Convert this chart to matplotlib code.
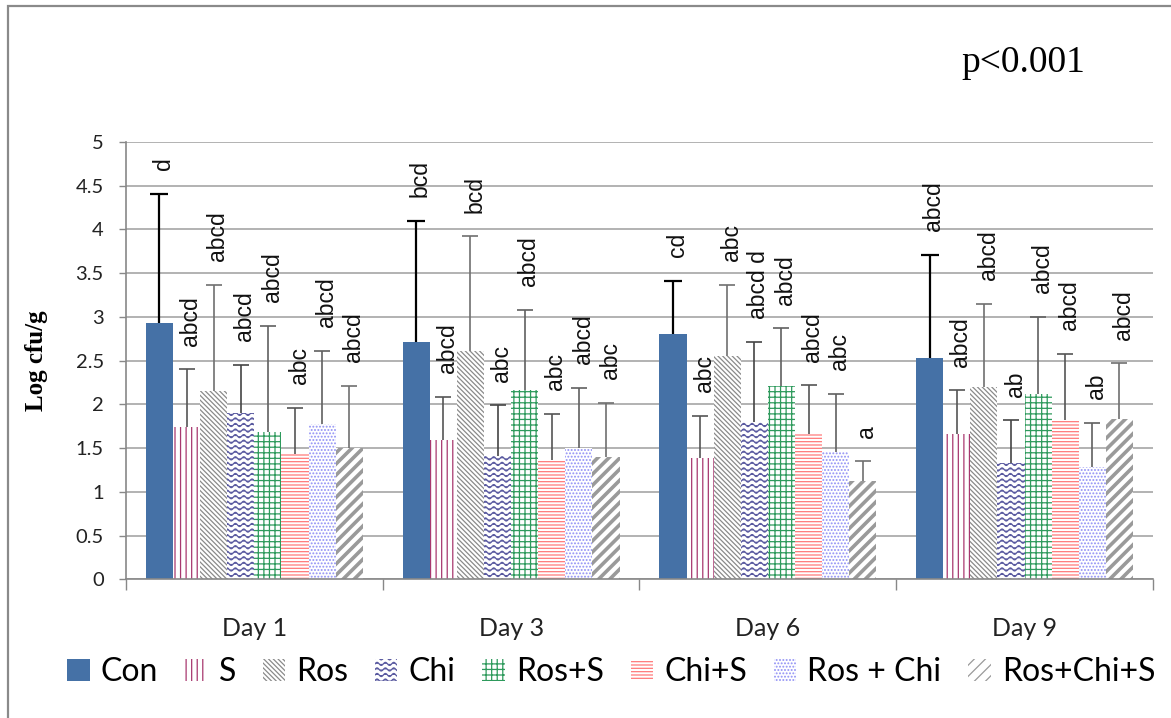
import matplotlib
matplotlib.use('Agg')
import matplotlib.pyplot as plt
import matplotlib.hatch as mhatch
from matplotlib.path import Path
from matplotlib.patches import Rectangle
import numpy as np

# ---- data ----
days = ['Day 1', 'Day 3', 'Day 6', 'Day 9']
groups = ['Con', 'S', 'Ros', 'Chi', 'Ros+S', 'Chi+S', 'Ros + Chi', 'Ros+Chi+S']

con = [2.93, 2.71, 2.80, 2.53]
s = [1.74, 1.59, 1.39, 1.66]
ros = [2.15, 2.61, 2.55, 2.20]
chi = [1.90, 1.41, 1.80, 1.33]
ros_s = [1.68, 2.16, 2.21, 2.12]
chi_s = [1.43, 1.36, 1.66, 1.82]
ros_chi = [1.78, 1.50, 1.45, 1.28]
ros_chi_s = [1.50, 1.40, 1.12, 1.83]

con_sd = [1.48, 1.39, 0.61, 1.18]
s_sd = [0.66, 0.50, 0.48, 0.50]
ros_sd = [1.22, 1.31, 0.82, 0.95]
chi_sd = [0.55, 0.58, 0.91, 0.49]
ros_s_sd = [1.22, 0.92, 0.66, 0.88]
chi_s_sd = [0.53, 0.53, 0.56, 0.76]
ros_chi_sd = [0.83, 0.69, 0.67, 0.51]
ros_chi_s_sd = [0.71, 0.62, 0.23, 0.64]

con_lbl = ['d', 'bcd', 'cd', 'abcd']
s_lbl = ['abcd', 'abcd', 'abc', 'abcd']
ros_lbl = ['abcd', 'bcd', 'abc', 'abcd']
chi_lbl = ['abcd', 'abc', 'abcd d', 'ab']
ros_s_lbl = ['abcd', 'abcd', 'abcd', 'abcd']
chi_s_lbl = ['abc', 'abc', 'abcd', 'abcd']
ros_chi_lbl = ['abcd', 'abcd', 'abc', 'ab']
ros_chi_s_lbl = ['abcd', 'abc', 'a', 'abcd']

means = [con, s, ros, chi, ros_s, chi_s, ros_chi, ros_chi_s]
sds = [con_sd, s_sd, ros_sd, chi_sd, ros_s_sd, chi_s_sd, ros_chi_sd, ros_chi_s_sd]
letters = [con_lbl, s_lbl, ros_lbl, chi_lbl, ros_s_lbl, chi_s_lbl, ros_chi_lbl, ros_chi_s_lbl]


# wavy hatch for the Chi bars ('O' is re-used for it)
class WaveHatch(mhatch.HatchPatternBase):
    def __init__(self, hatch, density):
        self.num_lines = int(hatch.count('O') * density)
        self.n_pts = 121
        self.num_vertices = self.num_lines * self.n_pts

    def set_vertices_and_codes(self, vertices, codes):
        n = self.n_pts
        steps, step = np.linspace(0.0, 1.0, self.num_lines, False, retstep=True)
        steps += step / 2.0
        xs = np.linspace(0.0, 1.0, n)
        wave = 0.28 * step * np.sin(2 * np.pi * 12 * xs)
        for i, y0 in enumerate(steps):
            vertices[i * n:(i + 1) * n, 0] = xs
            vertices[i * n:(i + 1) * n, 1] = y0 + wave
            codes[i * n:(i + 1) * n] = Path.LINETO
            codes[i * n] = Path.MOVETO


mhatch._hatch_types = [h for h in mhatch._hatch_types
                       if h is not mhatch.LargeCircles] + [WaveHatch]

plt.rcParams['hatch.linewidth'] = 0.9

facecolors = ['#4571a6', 'white', 'white', 'white', 'white', 'white', 'white', 'white']
hatchcolors = ['#4571a6', '#a8386f', '#8a8a8a', '#5a5aa0', '#2e9a5c', '#ff7a7a', '#8f8ff5', '#9a9a9a']
hatches = [None, '|||', '\\\\\\\\\\\\\\', 'OOO', '+++', '-----', '.....', '///']
errcolors = ['black', '#555555', '#707070', '#444444', '#606060', '#555555', '#606060', '#707070']

fig = plt.figure(figsize=(11.71, 7.18), dpi=100)
ax = fig.add_axes([0.1076, 0.1932, 0.8770, 0.6090])

x = np.arange(len(days))
w = 0.1056
for i in range(len(groups)):
    xi = x + (i - 3.5) * w
    bars = ax.bar(xi, means[i], w, color=facecolors[i], edgecolor=hatchcolors[i],
                  linewidth=0, hatch=hatches[i], label=groups[i], zorder=2)
    if i == 7:
        for b in bars:
            if hasattr(b, 'set_hatch_linewidth'):
                b.set_hatch_linewidth(2.6)
    eb = ax.errorbar(xi, means[i], yerr=[np.zeros(len(days)), sds[i]], fmt='none',
                     ecolor=errcolors[i], elinewidth=1.6 if i == 0 else 1.2,
                     capsize=6.5 if i == 0 else 5.5, capthick=1.6 if i == 0 else 1.2,
                     zorder=3)
    eb[1][0].set_visible(False)
    for j in range(len(days)):
        ax.annotate(letters[i][j], xy=(xi[j], means[i][j] + sds[i][j]),
                    xytext=(3, 17), textcoords='offset points', rotation=90,
                    ha='center', va='bottom', fontsize=16.5,
                    family='Liberation Sans', color='#111111')

ax.set_xlim(-0.5, 3.5)
ax.set_ylim(0, 5)
ax.set_yticks(np.arange(0, 5.01, 0.5))
ax.set_yticklabels(['%g' % v for v in np.arange(0, 5.01, 0.5)])
ax.set_xticks(x)
ax.set_xticklabels(days)
ax.set_xticks(np.arange(-0.5, 3.6, 1), minor=True)
ax.tick_params(axis='x', which='major', length=0, pad=27, labelsize=18)
ax.tick_params(axis='x', which='minor', length=8, width=1, color='#888888')
ax.tick_params(axis='y', length=5, width=1, color='#888888', pad=11, labelsize=14.5)
for lab in ax.get_xticklabels() + ax.get_yticklabels():
    lab.set_family('Lato')
    lab.set_color('#222222')

ax.grid(axis='y', color='#a6a6a6', linewidth=1.2, zorder=0)
ax.set_axisbelow(True)
for side in ['top', 'right']:
    ax.spines[side].set_visible(False)
for side in ['left', 'bottom']:
    ax.spines[side].set_color('#888888')
    ax.spines[side].set_linewidth(1.2)

ax.set_ylabel('Log cfu/g', family='Liberation Serif', fontweight='bold', fontsize=18,
              labelpad=20)

fig.text(0.821, 0.912, 'p<0.001', family='Liberation Serif', fontsize=27, ha='left',
         va='center')

leg = fig.legend(loc='center', bbox_to_anchor=(0.522, 0.064), ncol=8, frameon=False,
                 prop={'family': 'Lato', 'size': 23}, handlelength=0.7,
                 handleheight=0.7, handletextpad=0.35, columnspacing=0.84,
                 borderaxespad=0)

fig.add_artist(Rectangle((0.0068, -0.2), 1.2, 1.1916, transform=fig.transFigure,
                         fill=False, edgecolor='#8a8a8a', linewidth=1.6))

fig.savefig('out.png', dpi=100)
